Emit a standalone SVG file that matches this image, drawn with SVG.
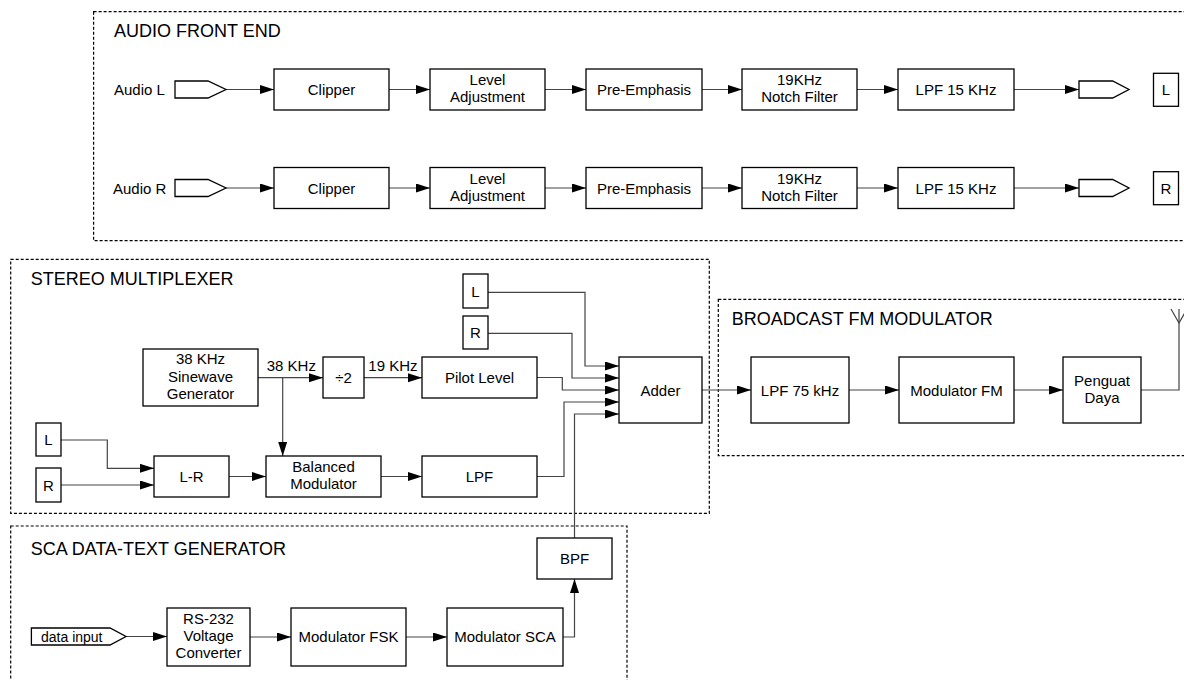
<svg xmlns="http://www.w3.org/2000/svg" width="1184" height="680" viewBox="0 0 1184 680">
<style>
text{font-family:"Liberation Sans",Arial,sans-serif;font-size:15px;fill:#000}
.t{font-size:18px}
.c{text-anchor:middle}
.box{fill:#fff;stroke:#000;stroke-width:1.3}
.grp{fill:none;stroke:#000;stroke-width:1.2;stroke-dasharray:3 2}
.ln{fill:none;stroke:#444;stroke-width:1.2}
.ln2{fill:none;stroke:#444;stroke-width:1.2;marker-end:url(#ah)}
</style>
<defs>
<marker id="ah" markerUnits="userSpaceOnUse" markerWidth="14" markerHeight="10" refX="14" refY="4.5" orient="auto"><path d="M0,0 L14,4.5 L0,9 z" fill="#000"/></marker>
</defs>
<rect width="1184" height="680" fill="#fff"/>

<g id="groups">
<rect class="grp" x="93.6" y="11.7" width="1100" height="229"/>
<text class="t" x="114" y="37">AUDIO FRONT END</text>
<rect class="grp" x="10.7" y="259.3" width="698.6" height="254"/>
<text class="t" x="30.7" y="285">STEREO MULTIPLEXER</text>
<rect class="grp" x="718.3" y="299.3" width="480" height="156.4"/>
<text class="t" x="731.7" y="325">BROADCAST FM MODULATOR</text>
<rect class="grp" x="10.7" y="526" width="616.3" height="170"/>
<text class="t" x="30.7" y="555">SCA DATA-TEXT GENERATOR</text>
</g>

<g id="connectors">
<path class="ln2" d="M226,89.5 H274"/>
<path class="ln2" d="M389,89.5 H430"/>
<path class="ln2" d="M545,89.5 H586"/>
<path class="ln2" d="M702,89.5 H742"/>
<path class="ln2" d="M857,89.5 H898"/>
<path class="ln2" d="M1014,89.5 H1079"/>
<path class="ln2" d="M226,188 H274"/>
<path class="ln2" d="M389,188 H430"/>
<path class="ln2" d="M545,188 H586"/>
<path class="ln2" d="M702,188 H742"/>
<path class="ln2" d="M857,188 H898"/>
<path class="ln2" d="M1014,188 H1079"/>

<path class="ln2" d="M258,377.7 H323"/>
<path class="ln2" d="M282.7,377.7 V456"/>
<path class="ln2" d="M364,377.7 H422"/>
<path class="ln2" d="M61,440 H107.3 V468.3 H154"/>
<path class="ln2" d="M61,485 H154"/>
<path class="ln2" d="M229,476.5 H266"/>
<path class="ln2" d="M381,476.5 H422"/>
<path class="ln2" d="M488,292.3 H585 V366 H619"/>
<path class="ln2" d="M488,333.3 H572 V378 H619"/>
<path class="ln2" d="M537,377.5 H562.3 V390 H619"/>
<path class="ln2" d="M537,476.5 H564 V402 H619"/>
<path class="ln2" d="M574.5,538 V414 H619"/>
<path class="ln2" d="M702,390 H751"/>
<path class="ln2" d="M849,390 H899"/>
<path class="ln2" d="M1014,390 H1063"/>
<path class="ln" d="M1141,390 H1179 V309"/>
<path class="ln" d="M1171,309 L1179,323 L1187,309"/>

<path class="ln2" d="M126,636.5 H167"/>
<path class="ln2" d="M250,637 H291"/>
<path class="ln2" d="M406,637 H447"/>
<path class="ln2" d="M563,637 H574.5 V579"/>
</g>

<g id="audioL_in"><path class="box" d="M175,81 H208 L226,89.5 L208,98 H175 Z"/><text x="114" y="95">Audio L</text></g>
<g id="clipperL"><rect class="box" x="274" y="69" width="115" height="41"/><text class="c" x="331.5" y="95">Clipper</text></g>
<g id="levelL"><rect class="box" x="430" y="69" width="115" height="41"/><text class="c" x="487.5" y="85">Level</text><text class="c" x="487.5" y="102">Adjustment</text></g>
<g id="preL"><rect class="box" x="586" y="69" width="116" height="41"/><text class="c" x="644" y="95">Pre-Emphasis</text></g>
<g id="notchL"><rect class="box" x="742" y="69" width="115" height="41"/><text class="c" x="799.5" y="85">19KHz</text><text class="c" x="799.5" y="102">Notch Filter</text></g>
<g id="lpf15L"><rect class="box" x="898" y="69" width="116" height="41"/><text class="c" x="956" y="95">LPF 15 KHz</text></g>
<g id="outL"><path class="box" d="M1079,81 H1112.6 L1129,89.5 L1112.6,98 H1079 Z"/></g>
<g id="Lout"><rect class="box" x="1153.5" y="73.3" width="25" height="33"/><text class="c" x="1166" y="95">L</text></g>

<g id="audioR_in"><path class="box" d="M175,179.5 H208 L226,188 L208,196.5 H175 Z"/><text x="113" y="193.5">Audio R</text></g>
<g id="clipperR"><rect class="box" x="274" y="167.5" width="115" height="41"/><text class="c" x="331.5" y="193.5">Clipper</text></g>
<g id="levelR"><rect class="box" x="430" y="167.5" width="115" height="41"/><text class="c" x="487.5" y="183.5">Level</text><text class="c" x="487.5" y="200.5">Adjustment</text></g>
<g id="preR"><rect class="box" x="586" y="167.5" width="116" height="41"/><text class="c" x="644" y="193.5">Pre-Emphasis</text></g>
<g id="notchR"><rect class="box" x="742" y="167.5" width="115" height="41"/><text class="c" x="799.5" y="183.5">19KHz</text><text class="c" x="799.5" y="200.5">Notch Filter</text></g>
<g id="lpf15R"><rect class="box" x="898" y="167.5" width="116" height="41"/><text class="c" x="956" y="193.5">LPF 15 KHz</text></g>
<g id="outR"><path class="box" d="M1079,179.5 H1112.6 L1129,188 L1112.6,196.5 H1079 Z"/></g>
<g id="Rout"><rect class="box" x="1153.5" y="171.7" width="25" height="33"/><text class="c" x="1166" y="193.5">R</text></g>

<g id="gen"><rect class="box" x="143" y="349" width="115" height="57"/><text class="c" x="200.5" y="363.5">38 KHz</text><text class="c" x="200.5" y="381.5">Sinewave</text><text class="c" x="200.5" y="399">Generator</text></g>
<text x="266.7" y="371">38 KHz</text>
<g id="div2"><rect class="box" x="323" y="357" width="41" height="41"/><text class="c" x="343.5" y="383">÷2</text></g>
<text x="368.3" y="371">19 KHz</text>
<g id="pilot"><rect class="box" x="422" y="357" width="115" height="41"/><text class="c" x="479.5" y="383">Pilot Level</text></g>
<g id="Lin"><rect class="box" x="36" y="423" width="25" height="33"/><text class="c" x="48.5" y="445">L</text></g>
<g id="Rin"><rect class="box" x="36" y="468" width="25" height="34"/><text class="c" x="48.5" y="490.5">R</text></g>
<g id="lmr"><rect class="box" x="154" y="456" width="75" height="41"/><text class="c" x="191.5" y="482">L-R</text></g>
<g id="balmod"><rect class="box" x="266" y="456" width="115" height="41"/><text class="c" x="323.5" y="472">Balanced</text><text class="c" x="323.5" y="489">Modulator</text></g>
<g id="lpf"><rect class="box" x="422" y="456" width="115" height="41"/><text class="c" x="479.5" y="482">LPF</text></g>
<g id="Lsum"><rect class="box" x="463" y="274" width="25" height="34"/><text class="c" x="475.5" y="296.5">L</text></g>
<g id="Rsum"><rect class="box" x="463" y="316" width="25" height="33"/><text class="c" x="475.5" y="338">R</text></g>
<g id="adder"><rect class="box" x="619" y="357" width="83" height="66"/><text class="c" x="660.5" y="395.5">Adder</text></g>

<g id="lpf75"><rect class="box" x="751" y="357" width="98" height="66"/><text class="c" x="800" y="395.5">LPF 75 kHz</text></g>
<g id="modfm"><rect class="box" x="899" y="357" width="115" height="66"/><text class="c" x="956.5" y="395.5">Modulator FM</text></g>
<g id="penguat"><rect class="box" x="1063" y="357" width="78" height="66"/><text class="c" x="1102" y="386">Penguat</text><text class="c" x="1102" y="403">Daya</text></g>

<g id="datain"><path class="box" d="M31.4,628 H110 L126,636.5 L110,645 H31.4 Z"/><text x="41" y="641.5" style="font-size:14px">data input</text></g>
<g id="rs232"><rect class="box" x="167" y="608" width="83" height="58"/><text class="c" x="208.5" y="624">RS-232</text><text class="c" x="208.5" y="641">Voltage</text><text class="c" x="208.5" y="658">Converter</text></g>
<g id="fsk"><rect class="box" x="291" y="608" width="115" height="58"/><text class="c" x="348.5" y="642">Modulator FSK</text></g>
<g id="sca"><rect class="box" x="447" y="608" width="116" height="58"/><text class="c" x="505" y="642">Modulator SCA</text></g>
<g id="bpf"><rect class="box" x="537" y="538" width="75" height="41"/><text class="c" x="574.5" y="564">BPF</text></g>
</svg>
